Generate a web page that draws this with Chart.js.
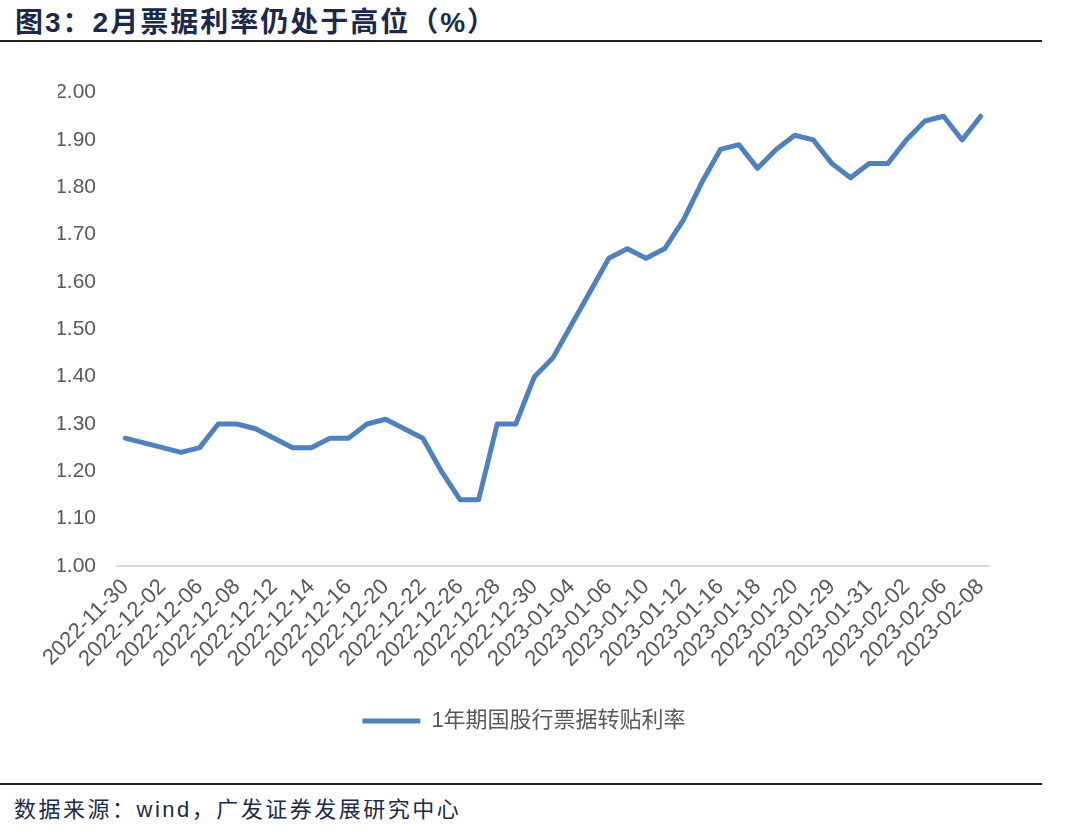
<!DOCTYPE html>
<html>
<head>
<meta charset="utf-8">
<script src="https://cdn.jsdelivr.net/npm/chart.js@4.4.0/dist/chart.umd.min.js"></script>
<style>
  body { margin: 0; background: #fff; width: 1080px; height: 838px; position: relative; overflow: hidden;
         font-family: "Liberation Sans", "Noto Sans CJK SC", sans-serif; }
  #title { position: absolute; left: 15px; top: 0px; font-size: 28px; font-weight: bold; color: #1b2a4a; letter-spacing: 2px;
           white-space: nowrap; }
  .rule { position: absolute; left: 0; width: 1042px; height: 2px; background: #222; }
  #chartBox { position: absolute; left: 0; top: 60px; width: 1040px; height: 700px; }
  #source { position: absolute; left: 14px; top: 791px; font-size: 22px; color: #1b2a4a; letter-spacing: 2.5px; white-space: nowrap; }
</style>
</head>
<body>
<div id="title">图3：2月票据利率仍处于高位（%）</div>
<div class="rule" style="top:40px"></div>
<div id="chartBox"><canvas id="chart"></canvas></div>
<div class="rule" style="top:783px"></div>
<div id="source">数据来源：wind，广发证券发展研究中心</div>
<script>
const seriesName = "1年期国股行票据转贴利率";

const dates = [
  "2022-11-30", "2022-12-01", "2022-12-02", "2022-12-05", "2022-12-06", "2022-12-07",
  "2022-12-08", "2022-12-09", "2022-12-12", "2022-12-13", "2022-12-14", "2022-12-15",
  "2022-12-16", "2022-12-19", "2022-12-20", "2022-12-21", "2022-12-22", "2022-12-23",
  "2022-12-26", "2022-12-27", "2022-12-28", "2022-12-29", "2022-12-30", "2023-01-03",
  "2023-01-04", "2023-01-05", "2023-01-06", "2023-01-09", "2023-01-10", "2023-01-11",
  "2023-01-12", "2023-01-13", "2023-01-16", "2023-01-17", "2023-01-18", "2023-01-19",
  "2023-01-20", "2023-01-28", "2023-01-29", "2023-01-30", "2023-01-31", "2023-02-01",
  "2023-02-02", "2023-02-03", "2023-02-06", "2023-02-07", "2023-02-08"
];

const rates = [
  1.27, 1.26, 1.25, 1.24, 1.25, 1.30,
  1.30, 1.29, 1.27, 1.25, 1.25, 1.27,
  1.27, 1.30, 1.31, 1.29, 1.27, 1.20,
  1.14, 1.14, 1.30, 1.30, 1.40, 1.44,
  1.51, 1.58, 1.65, 1.67, 1.65, 1.67,
  1.73, 1.81, 1.88, 1.89, 1.84, 1.88,
  1.91, 1.90, 1.85, 1.82, 1.85, 1.85,
  1.90, 1.94, 1.95, 1.90, 1.95
];

// y axis range and step
const yMin = 1.0;
const yMax = 2.0;
const yStep = 0.1;

const lineColor = "#4f81bd";
const textColor = "#595959";

new Chart(document.getElementById("chart"), {
  type: "line",
  data: {
    labels: dates,
    datasets: [{
      label: seriesName,
      data: rates,
      borderColor: lineColor,
      backgroundColor: lineColor,
      borderWidth: 5,
      pointRadius: 0,
      tension: 0,
      fill: false,
      borderJoinStyle: "round",
      borderCapStyle: "round"
    }]
  },
  options: {
    responsive: true,
    maintainAspectRatio: false,
    animation: false,
    // left padding keeps the legend centred where the reference has it
    layout: { padding: { top: 28, right: 50, bottom: 18, left: 58 } },
    plugins: {
      tooltip: { enabled: false },
      legend: {
        position: "bottom",
        labels: {
          usePointStyle: true,
          pointStyle: "line",
          pointStyleWidth: 58,
          color: textColor,
          padding: 6,
          font: { family: "'Liberation Sans', 'Noto Sans CJK SC'", size: 22 }
        }
      }
    },
    scales: {
      x: {
        offset: true,
        border: { display: false },
        grid: { display: false, drawTicks: false },
        afterFit: (scale) => { scale.height = 138; },
        ticks: {
          autoSkip: false,
          minRotation: 45,
          maxRotation: 45,
          padding: 8,
          color: textColor,
          font: { family: "'Liberation Sans'", size: 22 },
          callback: function (value, index) {
            return index % 2 === 0 ? dates[index] : "";
          }
        }
      },
      y: {
        min: yMin,
        max: yMax,
        border: { display: false },
        afterFit: (scale) => { scale.width = 58; },
        grid: {
          drawTicks: false,
          lineWidth: 2,
          color: (ctx) => (ctx.tick && Math.abs(ctx.tick.value - yMin) < 1e-9 ? "#d9d9d9" : "rgba(0,0,0,0)")
        },
        ticks: {
          stepSize: yStep,
          padding: 20,
          color: textColor,
          font: { family: "'Liberation Sans'", size: 21 },
          callback: (v) => v.toFixed(2)
        }
      }
    }
  }
});
</script>
</body>
</html>
